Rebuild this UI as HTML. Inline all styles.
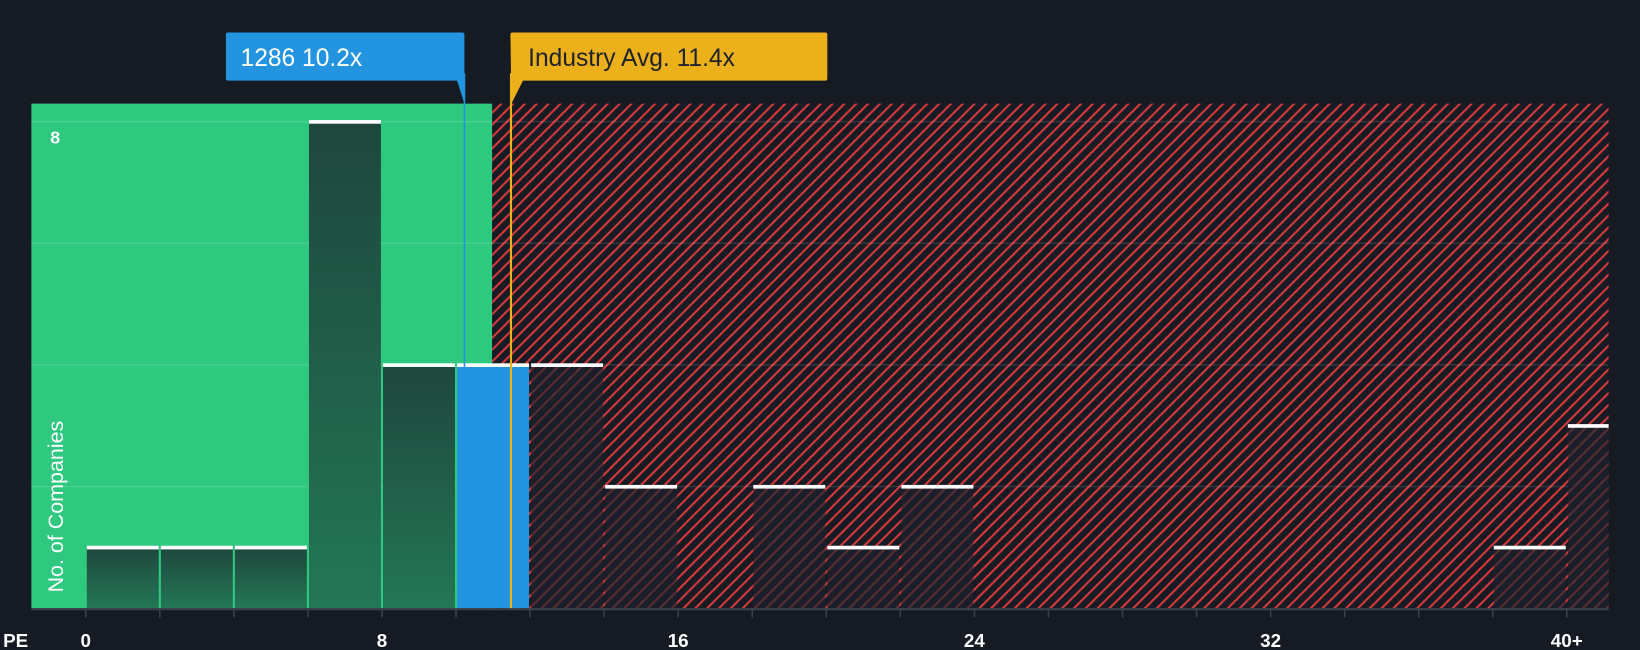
<!DOCTYPE html>
<html><head><meta charset="utf-8"><style>
html,body{margin:0;padding:0;background:#151a23;}
svg{display:block;font-family:"Liberation Sans",sans-serif;}
</style></head><body>
<svg id="chart" width="1640" height="650" viewBox="0 0 1568 621" preserveAspectRatio="none" xmlns="http://www.w3.org/2000/svg">
<defs>
<pattern id="hatch" patternUnits="userSpaceOnUse" width="8" height="8" patternTransform="rotate(45)">
<rect width="8" height="8" fill="#161b24"/><rect x="0" y="0" width="2" height="8" fill="#d6393c"/>
</pattern>
<pattern id="hatch2" patternUnits="userSpaceOnUse" width="8" height="8" patternTransform="rotate(45)">
<rect width="8" height="8" fill="#1b1f29"/><rect x="0" y="0" width="2" height="8" fill="#5a2c33"/>
</pattern>
<linearGradient id="gbar" x1="0" y1="0" x2="0" y2="1"><stop offset="0" stop-color="#1f463d"/><stop offset="1" stop-color="#237756"/></linearGradient>
</defs>
<rect x="0" y="0" width="1568" height="621" fill="#151a23"/>
<g id="plot"></g>
</svg>
<script>
const binStarts=[0,2,4,6,8,10,12,14,16,18,20,22,24,26,28,30,32,34,36,38,40];
const counts=[1,1,1,8,4,4,4,2,0,2,1,2,0,0,0,0,0,0,0,1,3];
const companyPE=10.2;
const industryPE=11.4;
const xTicks=[0,8,16,24,32,40];
const xTickLabels=["0","8","16","24","32","40+"];
const yGrid=[2,4,6,8];
const ns="http://www.w3.org/2000/svg";
const g=document.getElementById('plot');
const X0=82,XU=35.4,Y0=581,YU=58.1,LEFT=30,RIGHT=1538,TOP=99;
const xs=v=>X0+v*XU, ys=v=>Y0-v*YU;
function el(t,a){const e=document.createElementNS(ns,t);for(const k in a)e.setAttribute(k,a[k]);g.appendChild(e);return e;}
const split=xs(industryPE)-15;
const gr=el('rect',{x:LEFT,y:TOP,width:split-LEFT,height:Y0-TOP,fill:'#2ec97f'});


const rr=el('rect',{x:split,y:TOP,width:RIGHT-split,height:Y0-TOP,fill:'url(#hatch)'});


yGrid.forEach(v=>{const l=el('line',{x1:LEFT,x2:RIGHT,y1:ys(v),y2:ys(v),stroke:'rgba(255,255,255,0.12)','stroke-width':1.5});

});
binStarts.forEach((b,i)=>{const c=counts[i];if(!c)return;
 const x1=xs(b)+1;const x2=Math.min(xs(b+2)-1,RIGHT);const y=ys(c);
 const fill=b===10?'#2394df':(x1>=split+20?'url(#hatch2)':'url(#gbar)');
 const r=el('rect',{x:x1,y:y,width:x2-x1,height:Y0-y,fill:fill});
 
 
 const cap=el('rect',{x:x1,y:y-1.5,width:x2-x1,height:3.5,fill:'#ffffff'});
 
 
});
const ax=el('line',{x1:LEFT,x2:RIGHT,y1:Y0+1,y2:Y0+1,stroke:'#3b404b','stroke-width':2});


for(let v=0;v<=40;v+=2){const t=el('line',{x1:xs(v),x2:xs(v),y1:Y0,y2:Y0+9,stroke:'#3b404b','stroke-width':1.5});

}
xTicks.forEach((v,i)=>{const t=el('text',{x:xs(v),y:618,fill:'#fff','font-size':18,'font-weight':'bold','text-anchor':'middle'});t.textContent=xTickLabels[i];

});
const pe=el('text',{x:3,y:618,fill:'#fff','font-size':18,'font-weight':'bold'});pe.textContent='PE';


const y8=el('text',{x:48,y:ys(8)+21,fill:'#fff','font-size':17,'font-weight':'bold'});y8.textContent='8';


const yt=el('text',{x:0,y:0,fill:'#fff','font-size':20.5,transform:'translate(60,566) rotate(-90)'});yt.textContent='No. of Companies';


const cx=xs(companyPE)+1;
const cl=el('line',{x1:cx,x2:cx,y1:70,y2:Y0,stroke:'#2394df','stroke-width':1.5});


const cb=el('path',{d:`M216 33 Q216 31 218 31 L442 31 Q444 31 444 33 L444 99 L437 77 L218 77 Q216 77 216 75 Z`,fill:'#2394df'});


const ct=el('text',{x:230,y:63,fill:'#fff','font-size':23.5});ct.textContent='1286 10.2x';


const ix=xs(industryPE)+3;
const il=el('line',{x1:ix,x2:ix,y1:70,y2:Y0,stroke:'#f0b21b','stroke-width':2});


const ib=el('path',{d:`M488 33 Q488 31 490 31 L789 31 Q791 31 791 33 L791 75 Q791 77 789 77 L500 77 L489 99 Z`,fill:'#ebb01a'});


const it=el('text',{x:505,y:63,fill:'#1d222b','font-size':23.5});it.textContent='Industry Avg. 11.4x';


</script>
</body></html>
